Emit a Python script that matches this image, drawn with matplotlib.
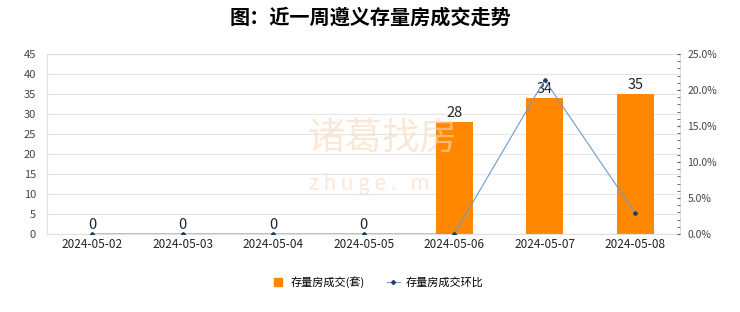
import matplotlib.pyplot as plt
from matplotlib.ticker import MultipleLocator, FuncFormatter
from matplotlib.lines import Line2D
import numpy as np

plt.rcParams['font.family'] = ['Noto Sans CJK SC', 'DejaVu Sans']

dates = ['2024-05-02', '2024-05-03', '2024-05-04', '2024-05-05',
         '2024-05-06', '2024-05-07', '2024-05-08']
deals = [0, 0, 0, 0, 28, 34, 35]
ratio = [0, 0, 0, 0, 0, 21.4, 2.9]  # 环比 %

fig = plt.figure(figsize=(7.4, 3.12), dpi=100)
ax = fig.add_axes([0.0635, 0.25, 0.856, 0.577])
ax2 = ax.twinx()

# watermark (behind everything)
fig.text(0.415, 0.555, '诸葛找房', fontsize=27, color='#f8d9bd', alpha=0.6,
         ha='left', va='center', zorder=0)
fig.text(0.418, 0.41, 'z h u g e .   m', fontsize=15, color='#f8d9bd', alpha=0.6,
         ha='left', va='center', zorder=0)

x = np.arange(len(dates))
ax.bar(x, deals, width=0.41, color='#ff8800', zorder=2)
for xi, v in zip(x, deals):
    ax.text(xi, v + 0.6, str(v), ha='center', va='bottom', fontsize=10.5, color='#222222', zorder=5)

ax.set_xlim(-0.5, len(dates) - 0.5)
ax.set_ylim(0, 45)
ax.yaxis.set_major_locator(MultipleLocator(5))
ax.grid(axis='y', color='#e6e6e6', linewidth=0.8, zorder=0)
ax.set_xticks(x)
ax.set_xticklabels(dates)
ax.tick_params(axis='x', length=0, labelsize=8.5, colors='#222222', pad=3)
ax.tick_params(axis='y', length=0, labelsize=8, colors='#444444', pad=8)
ax.patch.set_alpha(0)
for s in ax.spines.values():
    s.set_color('#e0e0e0')
    s.set_linewidth(0.8)

ax2.plot(x, ratio, color='#6b9ccc', linewidth=0.8, marker='D', markersize=2,
         markerfacecolor='#1f3f66', markeredgecolor='#1f3f66', zorder=4)
ax2.set_ylim(0, 25)
ax2.yaxis.set_major_locator(MultipleLocator(5))
ax2.yaxis.set_minor_locator(MultipleLocator(1))
ax2.yaxis.set_major_formatter(FuncFormatter(lambda v, p: '%.1f%%' % v))
ax2.tick_params(axis='y', which='both', direction='in', length=2.5, color='#555555',
                labelsize=7.5, labelcolor='#444444', pad=5)
for s in ax2.spines.values():
    s.set_visible(False)

fig.suptitle('图：近一周遵义存量房成交走势', fontsize=14.5, fontweight='bold', y=0.98)

h1 = Line2D([], [], linestyle='none', marker='s', markersize=6, color='#ff8800')
h2 = Line2D([], [], color='#6b9ccc', linewidth=0.8, marker='D', markersize=2,
            markerfacecolor='#1f3f66', markeredgecolor='#1f3f66')
fig.legend(handles=[h1, h2], labels=['存量房成交(套)', '存量房成交环比'],
           loc='center', bbox_to_anchor=(0.51, 0.095), ncol=2,
           frameon=False, fontsize=8, handlelength=1.2, columnspacing=2.0, handletextpad=0.5)

fig.savefig('out.png', dpi=100)
